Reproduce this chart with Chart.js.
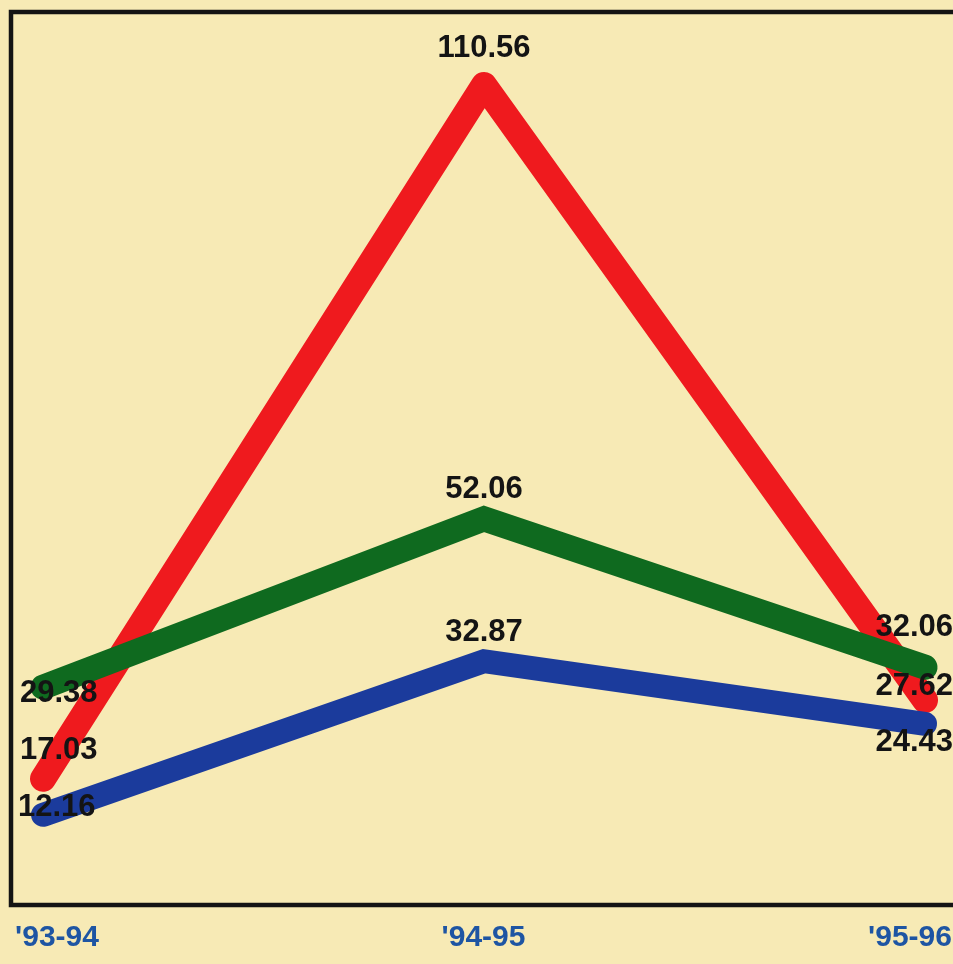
<!DOCTYPE html>
<html>
<head>
<meta charset="utf-8">
<script src="https://cdn.jsdelivr.net/npm/chart.js@4"></script>
<style>
  html, body { margin: 0; padding: 0; background: #f7eab5; overflow: hidden; }
  #wrap { width: 953px; height: 964px; }
</style>
</head>
<body>
<div id="wrap"><canvas id="seasonChart"></canvas></div>
<script>
// Data
const seasons = ["'93-94", "'94-95", "'95-96"];
const redValues = [17.03, 110.56, 27.62];
const greenValues = [29.38, 52.06, 32.06];
const blueValues = [12.16, 32.87, 24.43];

// where each value label sits relative to its point: [textAlign, dx, dy]
const redLabelPos = [["left", -23, -28], ["center", 0, -37], ["right", 28, -14]];
const greenLabelPos = [["left", -23, 6], ["center", 0, -29], ["right", 28, -40]];
const blueLabelPos = [["left", -25, -7], ["center", 0, -29], ["right", 28, 19]];

function toPoints(values) {
  return values.map((v, i) => ({ x: i, y: v }));
}

// black frame round the plot (right edge runs off the page)
const framePlugin = {
  id: "frame",
  beforeDatasetsDraw(chart) {
    const { ctx, chartArea } = chart;
    ctx.save();
    ctx.strokeStyle = "#141414";
    ctx.lineWidth = 4.5;
    ctx.strokeRect(chartArea.left, chartArea.top,
      chartArea.right - chartArea.left + 20, chartArea.bottom - chartArea.top);
    ctx.restore();
  },
};

// value labels at each point
const valueLabelPlugin = {
  id: "valueLabels",
  afterDatasetsDraw(chart) {
    const { ctx } = chart;
    ctx.save();
    ctx.font = "bold 31px 'Liberation Sans', Arial, sans-serif";
    ctx.fillStyle = "#141414";
    ctx.textBaseline = "middle";
    chart.data.datasets.forEach((ds, di) => {
      const meta = chart.getDatasetMeta(di);
      meta.data.forEach((pt, i) => {
        const [align, dx, dy] = ds.labelPos[i];
        ctx.textAlign = align;
        ctx.fillText(ds.data[i].y.toFixed(2), pt.x + dx, pt.y + dy);
      });
    });
    ctx.restore();
  },
};

const ctx = document.getElementById("seasonChart").getContext("2d");

new Chart(ctx, {
  type: "line",
  data: {
    datasets: [
      {
        label: "blue",
        data: toPoints(blueValues),
        labelPos: blueLabelPos,
        borderColor: "#1b3b9c",
        borderWidth: 24,
        borderCapStyle: "round",
        borderJoinStyle: "miter",
      },
      {
        label: "green",
        data: toPoints(greenValues),
        labelPos: greenLabelPos,
        borderColor: "#0f6a1f",
        borderWidth: 25,
        borderCapStyle: "round",
        borderJoinStyle: "miter",
      },
      {
        label: "red",
        data: toPoints(redValues),
        labelPos: redLabelPos,
        borderColor: "#ef1a1e",
        borderWidth: 26,
        borderCapStyle: "round",
        borderJoinStyle: "round",
      },
    ],
  },
  options: {
    responsive: true,
    maintainAspectRatio: false,
    animation: false,
    layout: { padding: { left: 11, top: 12, right: 0, bottom: -6 } },
    elements: { point: { radius: 0 }, line: { tension: 0 } },
    plugins: { legend: { display: false }, tooltip: { enabled: false } },
    scales: {
      x: { type: "linear", display: false, min: -0.0726, max: 2.0635 },
      seasonAxis: {
        type: "linear",
        position: "bottom",
        axis: "x",
        min: -0.1079,
        max: 2.1008,
        grid: { display: false, drawTicks: false },
        border: { display: false },
        afterBuildTicks(axis) {
          axis.ticks = seasons.map((_, i) => ({ value: i }));
        },
        afterFit(axis) {
          axis.paddingLeft = 0;
          axis.paddingRight = 0;
        },
        ticks: {
          padding: 14.5,
          color: "#1e55a3",
          font: { family: "'Liberation Sans', Arial, sans-serif", size: 30, weight: "bold", lineHeight: 1.2 },
          maxRotation: 0,
          callback: (value) => seasons[value],
        },
      },
      y: { display: false, min: 0, max: 120.4 },
    },
  },
  plugins: [framePlugin, valueLabelPlugin],
});
</script>
</body>
</html>
